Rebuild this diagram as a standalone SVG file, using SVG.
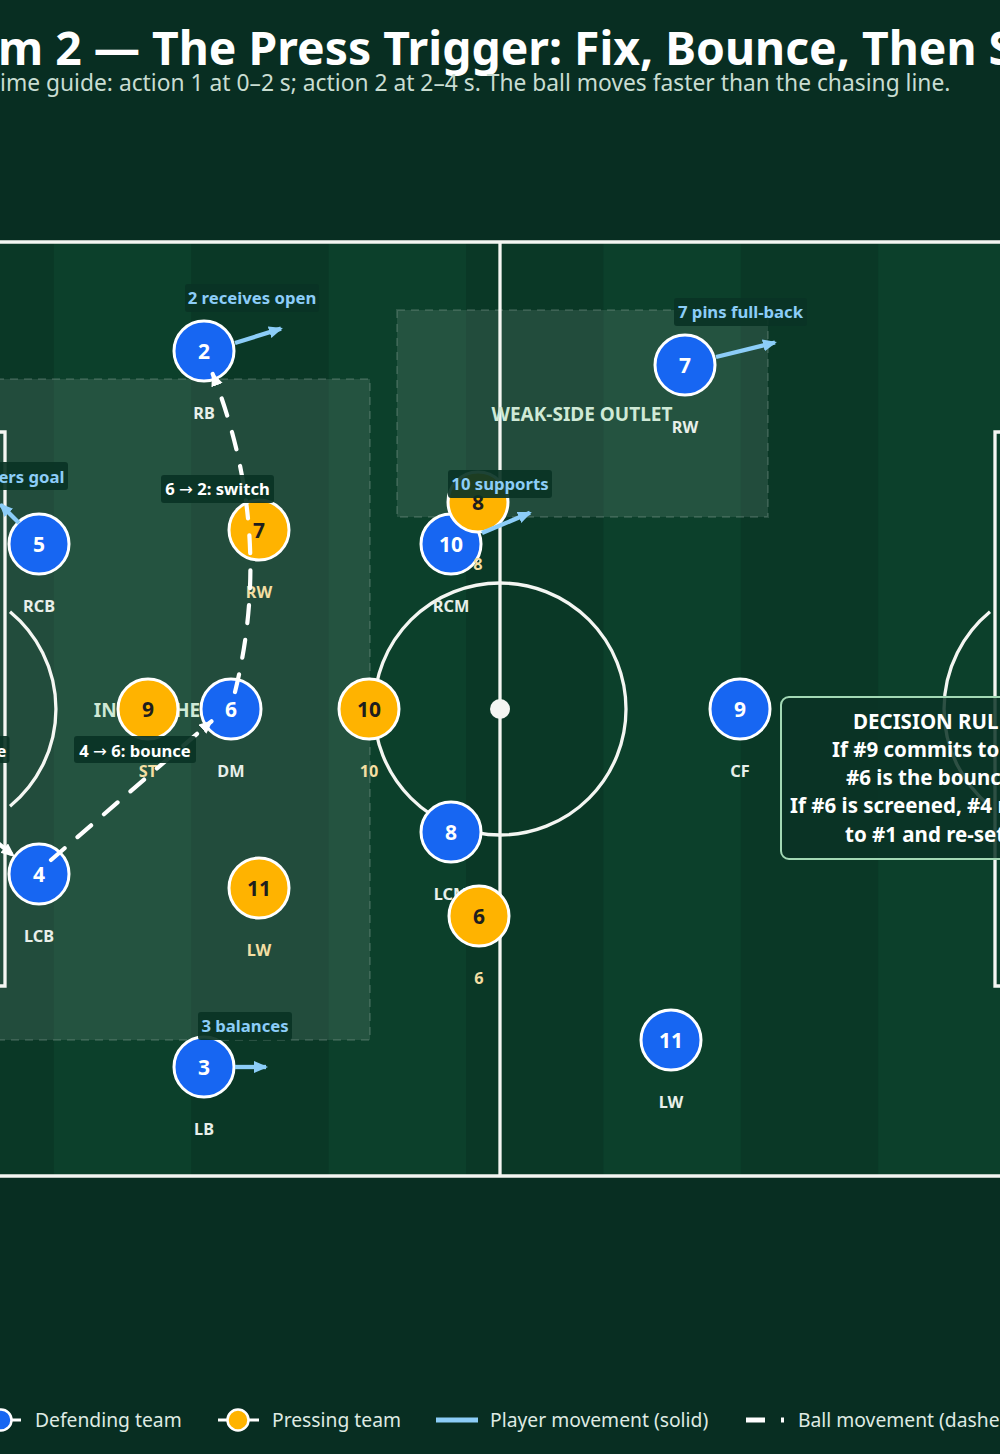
<svg xmlns="http://www.w3.org/2000/svg" width="1000" height="1454" viewBox="0 0 1000 1454">
<defs>
<style>
.bg{fill:#082e22}
.dk{fill:#0a3826}
.lt{fill:#0c402b}
.pl{fill:none;stroke:#f4f6f2;stroke-width:3.3}
.zone{fill:#ffffff;fill-opacity:0.1;stroke:#ffffff;stroke-opacity:0.13;stroke-width:2;stroke-dasharray:8 6}
.zl{font-family:"Noto Sans","Open Sans",sans-serif;font-weight:700;font-size:19px;fill:#cfe9d6;text-anchor:middle}
.def{fill:#1766f2;stroke:#ffffff;stroke-width:3}
.prs{fill:#ffb300;stroke:#ffffff;stroke-width:3}
.nd{font-family:"Noto Sans","Open Sans",sans-serif;font-weight:700;font-size:21px;text-anchor:middle;fill:#ffffff}
.np{font-family:"Noto Sans","Open Sans",sans-serif;font-weight:700;font-size:21px;text-anchor:middle;fill:#1e1e1e}
.ld{font-family:"Noto Sans","Open Sans",sans-serif;font-weight:700;font-size:16.3px;text-anchor:middle;fill:#e8efea}
.lp{font-family:"Noto Sans","Open Sans",sans-serif;font-weight:700;font-size:16.3px;text-anchor:middle;fill:#f3dea2}
.ball{fill:none;stroke:#ffffff;stroke-width:4.2;stroke-dasharray:18 17;stroke-linecap:round;marker-end:url(#ah-ball)}
.move{fill:none;stroke:#8ccdf8;stroke-width:4.3;marker-end:url(#ah-move)}
.box{fill:#0a3325;fill-opacity:0.92}
.bt{font-family:"Noto Sans","Open Sans",sans-serif;font-weight:700;font-size:16.6px;fill:#ffffff}
.ar{font-family:"DejaVu Sans",sans-serif;font-weight:400}
.mt{font-family:"Noto Sans","Open Sans",sans-serif;font-weight:700;font-size:16.7px;fill:#8ccdf8}
.dt{font-family:"Noto Sans","Open Sans",sans-serif;font-weight:700;font-size:20.5px;fill:#ffffff}
.lg{font-family:"Noto Sans","Open Sans",sans-serif;font-size:19.3px;fill:#dfeae3}
</style>
<marker id="ah-ball" markerUnits="userSpaceOnUse" markerWidth="16" markerHeight="14" refX="12" refY="6" orient="auto">
<path d="M0,0 L14,6 L0,12 z" fill="#ffffff"/>
</marker>
<marker id="ah-move" markerUnits="userSpaceOnUse" markerWidth="16" markerHeight="14" refX="12" refY="6" orient="auto">
<path d="M0,0 L14,6 L0,12 z" fill="#8ccdf8"/>
</marker>
</defs>

<rect class="bg" x="0" y="0" width="1000" height="1454"/>

<g id="title">
<text x="-2" y="65" font-family="Noto Sans, Open Sans, sans-serif" font-weight="700" font-size="46.3" fill="#ffffff">m 2 — The Press Trigger: Fix, Bounce, Then S</text>
<text x="0" y="91" font-family="Noto Sans, Open Sans, sans-serif" font-size="22.8" fill="#c9ddd2">ime guide: action 1 at 0–2 s; action 2 at 2–4 s. The ball moves faster than the chasing line.</text>
</g>

<g id="pitch">
<rect class="dk" x="0" y="242" width="1000" height="934"/>
<rect class="lt" x="53.8" y="242" width="137.4" height="934"/>
<rect class="lt" x="328.6" y="242" width="137.4" height="934"/>
<rect class="lt" x="603.4" y="242" width="137.4" height="934"/>
<rect class="lt" x="878.2" y="242" width="121.8" height="934"/>
<line class="pl" x1="0" y1="242" x2="1000" y2="242"/>
<line class="pl" x1="0" y1="1176" x2="1000" y2="1176"/>
<line class="pl" x1="500" y1="242" x2="500" y2="1176"/>
<circle class="pl" cx="500" cy="709" r="126"/>
<circle cx="500" cy="709" r="10" fill="#f4f6f2"/>
<path class="pl" d="M0,432 H5 V986 H0"/>
<path class="pl" d="M1000,432 H995 V986 H1000"/>
<path class="pl" d="M10,611.7 A126,126 0 0 1 10,806.3"/>
<path class="pl" d="M990,611.7 A126,126 0 0 0 990,806.3"/>
</g>

<g id="zones">
<rect class="zone" x="-74" y="379" width="444" height="661"/>
<rect class="zone" x="397" y="310" width="371" height="207"/>
<text class="zl" x="147" y="717">INSIDE THE</text>
<text class="zl" x="582" y="421">WEAK-SIDE OUTLET</text>
</g>

<g id="defending">
<g id="d2"><circle class="def" cx="204" cy="351" r="30"/><text class="nd" x="204" y="358.5">2</text><text class="ld" x="204" y="418.5">RB</text></g>
<g id="d7"><circle class="def" cx="685" cy="365" r="30"/><text class="nd" x="685" y="372.5">7</text><text class="ld" x="685" y="432.5">RW</text></g>
<g id="d5"><circle class="def" cx="39" cy="544" r="30"/><text class="nd" x="39" y="551.5">5</text><text class="ld" x="39" y="611.5">RCB</text></g>
<g id="d10"><circle class="def" cx="451" cy="544" r="30"/><text class="nd" x="451" y="551.5">10</text><text class="ld" x="451" y="611.5">RCM</text></g>
<g id="d6"><circle class="def" cx="231" cy="709" r="30"/><text class="nd" x="231" y="716.5">6</text><text class="ld" x="231" y="776.5">DM</text></g>
<g id="d9"><circle class="def" cx="740" cy="709" r="30"/><text class="nd" x="740" y="716.5">9</text><text class="ld" x="740" y="776.5">CF</text></g>
<g id="d8"><circle class="def" cx="451" cy="832" r="30"/><text class="nd" x="451" y="839.5">8</text><text class="ld" x="451" y="899.5">LCM</text></g>
<g id="d4"><circle class="def" cx="39" cy="874" r="30"/><text class="nd" x="39" y="881.5">4</text><text class="ld" x="39" y="941.5">LCB</text></g>
<g id="d3"><circle class="def" cx="204" cy="1067" r="30"/><text class="nd" x="204" y="1074.5">3</text><text class="ld" x="204" y="1134.5">LB</text></g>
<g id="d11"><circle class="def" cx="671" cy="1040" r="30"/><text class="nd" x="671" y="1047.5">11</text><text class="ld" x="671" y="1107.5">LW</text></g>
</g>

<g id="pressing">
<g id="p8"><circle class="prs" cx="478" cy="502" r="30"/><text class="np" x="478" y="509.5">8</text><text class="lp" x="478" y="569.5">8</text></g>
<g id="p7"><circle class="prs" cx="259" cy="530" r="30"/><text class="np" x="259" y="537.5">7</text><text class="lp" x="259" y="597.5">RW</text></g>
<g id="p9"><circle class="prs" cx="148" cy="709" r="30"/><text class="np" x="148" y="716.5">9</text><text class="lp" x="148" y="776.5">ST</text></g>
<g id="p10"><circle class="prs" cx="369" cy="709" r="30"/><text class="np" x="369" y="716.5">10</text><text class="lp" x="369" y="776.5">10</text></g>
<g id="p11"><circle class="prs" cx="259" cy="888" r="30"/><text class="np" x="259" y="895.5">11</text><text class="lp" x="259" y="955.5">LW</text></g>
<g id="p6"><circle class="prs" cx="479" cy="916" r="30"/><text class="np" x="479" y="923.5">6</text><text class="lp" x="479" y="983.5">6</text></g>
</g>

<g id="connectors">
<path class="ball" d="M-166,709 L13.5,855.7"/>
<path class="ball" d="M51,860 L211.5,721.3"/>
<path class="ball" d="M235,692 Q274.5,532 212.7,373.9"/>
<path class="move" d="M235,343 L281,328.6"/>
<path class="move" d="M716,357 L775,342.5"/>
<path class="move" d="M482,533 L530,512.8"/>
<path class="move" d="M235,1067 L266,1067"/>
<path class="move" d="M19,523 L0.4,504.4"/>
</g>

<g id="labels">
<rect class="box" x="-60" y="736" width="69.5" height="27" rx="3"/>
<text class="bt" x="6.5" y="757" text-anchor="end">e</text>
<rect class="box" x="74" y="736" width="122" height="27" rx="3"/>
<text class="bt" x="135" y="757" text-anchor="middle">4 <tspan class="ar">→</tspan> 6: bounce</text>
<rect class="box" x="161" y="475" width="113" height="28" rx="3"/>
<text class="bt" x="217.5" y="495" text-anchor="middle">6 <tspan class="ar">→</tspan> 2: switch</text>
<rect class="box" x="185" y="284" width="134" height="28" rx="3"/>
<text class="mt" x="252" y="304" text-anchor="middle">2 receives open</text>
<rect class="box" x="674" y="298" width="133" height="28" rx="3"/>
<text class="mt" x="740.5" y="318" text-anchor="middle">7 pins full-back</text>
<rect class="box" x="448" y="470" width="104" height="28" rx="3"/>
<text class="mt" x="500" y="490" text-anchor="middle">10 supports</text>
<rect class="box" x="198" y="1012" width="94" height="28" rx="3"/>
<text class="mt" x="245" y="1032" text-anchor="middle">3 balances</text>
<rect class="box" x="-40" y="462" width="108" height="28" rx="3"/>
<text class="mt" x="64.5" y="483" text-anchor="end">ers goal</text>
</g>

<g id="decision">
<rect x="781" y="697" width="294" height="162" rx="8" fill="#0a3326" fill-opacity="0.85" stroke="#a3d9b5" stroke-width="2"/>
<text class="dt" x="853" y="729">DECISION RUL</text>
<text class="dt" x="832" y="757">If #9 commits to</text>
<text class="dt" x="846" y="785">#6 is the bounc</text>
<text class="dt" x="790" y="813">If #6 is screened, #4 r</text>
<text class="dt" x="845" y="842">to #1 and re-set</text>
</g>

<g id="legend">
<line x1="-20" y1="1420" x2="21" y2="1420" stroke="#ffffff" stroke-width="3"/>
<circle cx="1" cy="1420" r="10.5" fill="#1766f2" stroke="#ffffff" stroke-width="2.5"/>
<text class="lg" x="35" y="1427">Defending team</text>
<line x1="218" y1="1420" x2="259" y2="1420" stroke="#ffffff" stroke-width="3"/>
<circle cx="238" cy="1420" r="10.5" fill="#ffb300" stroke="#ffffff" stroke-width="2.5"/>
<text class="lg" x="272" y="1427">Pressing team</text>
<line x1="436" y1="1420" x2="478" y2="1420" stroke="#8ccdf8" stroke-width="5"/>
<text class="lg" x="490" y="1427">Player movement (solid)</text>
<line x1="746" y1="1420" x2="784" y2="1420" stroke="#ffffff" stroke-width="5" stroke-dasharray="19 16"/>
<text class="lg" x="798" y="1427">Ball movement (dashe</text>
</g>
</svg>
